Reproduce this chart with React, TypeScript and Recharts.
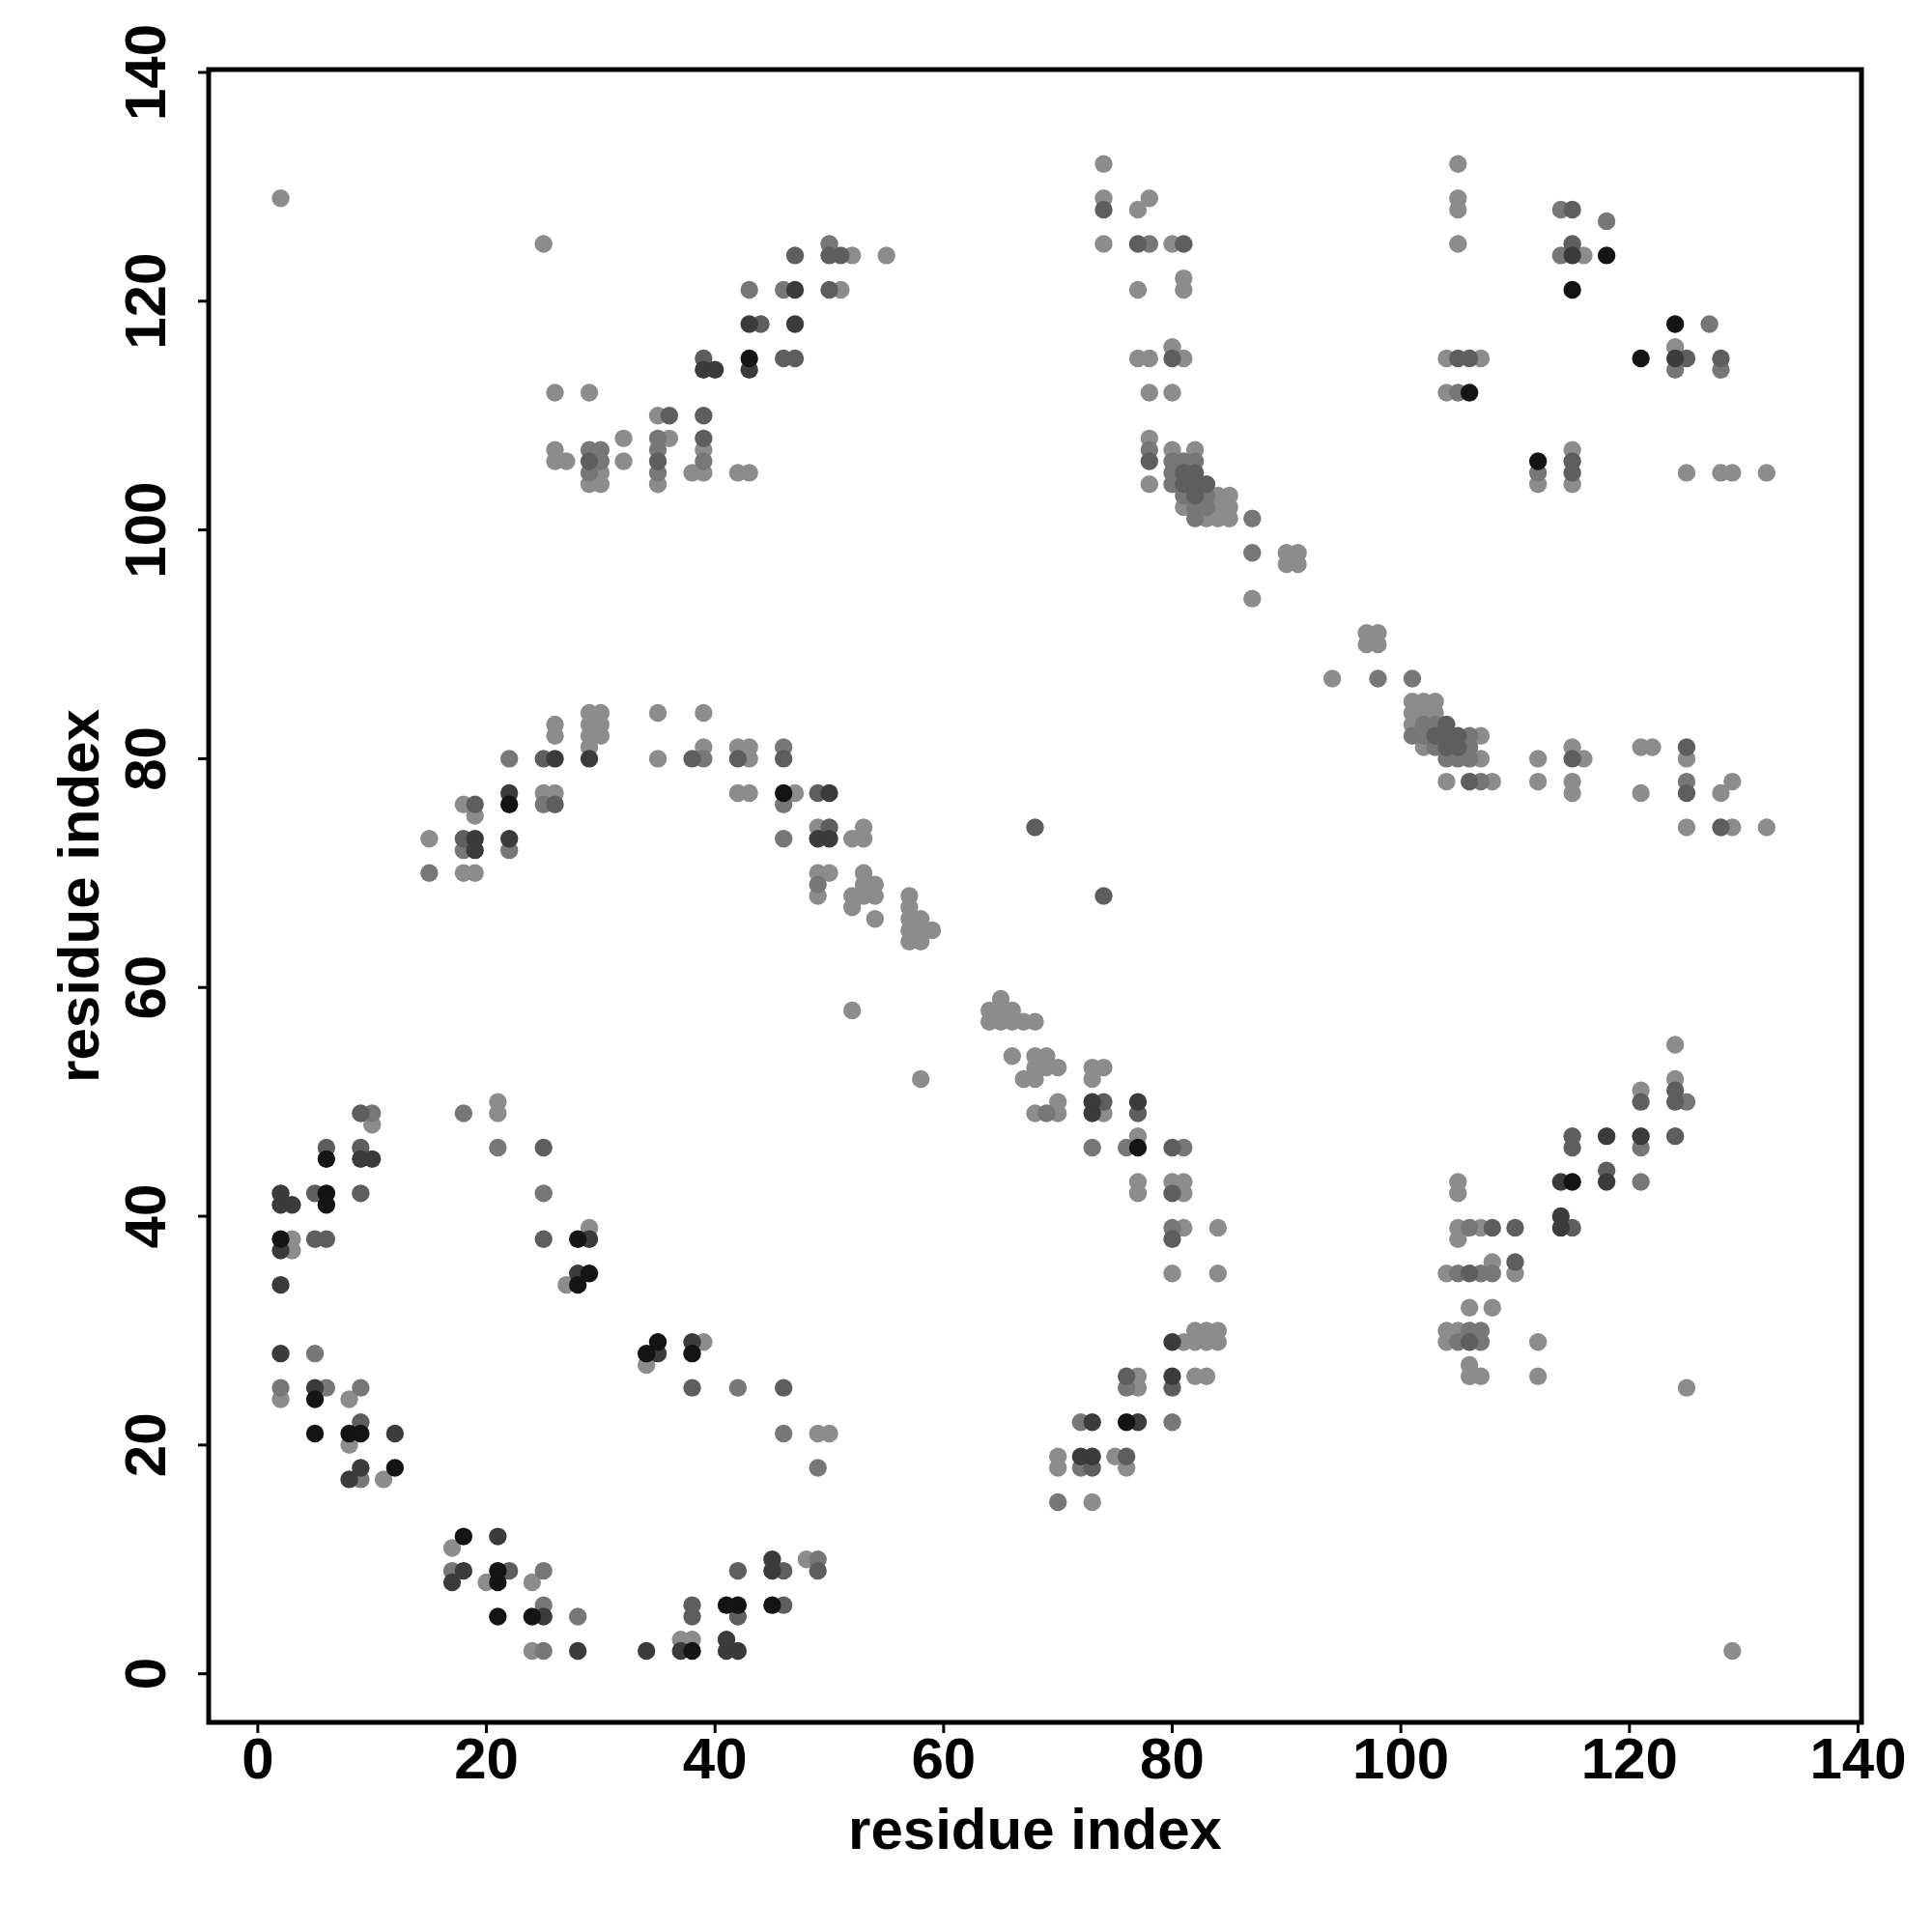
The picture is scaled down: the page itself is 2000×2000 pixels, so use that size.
import React from "react";
import { ScatterChart, Scatter, XAxis, YAxis, ReferenceArea } from "recharts";

document.body.style.margin = "0";

const W = 2000;
const H = 2000;
const M = { top: 72, right: 73, bottom: 0, left: 0 };
const X_AXIS_H = 217;
const Y_AXIS_W = 216;
const X_DOMAIN: [number, number] = [-4.3, 140.3];
const Y_DOMAIN: [number, number] = [-4.25, 140.25];
const FONT = "'Liberation Sans', Arial, Helvetica, sans-serif";

const axisTicks = [0, 20, 40, 60, 80, 100, 120, 140];

// residue contacts (i < j), each plotted at (i, j) and (j, i); grouped by grey level
const contactsLight: [number, number][] = [
  [2, 129], [2, 24], [3, 38], [3, 37], [8, 24], [8, 20], [11, 17], [10, 48],
  [21, 50], [21, 49], [29, 39], [27, 34],
  [15, 73], [18, 76], [19, 75], [18, 70], [19, 70], [26, 83], [26, 82], [25, 77],
  [26, 77], [29, 84], [30, 84], [29, 83], [30, 83], [29, 82], [30, 82], [29, 81],
  [35, 84], [39, 84], [35, 80], [39, 81], [42, 81], [43, 81], [43, 80], [42, 77],
  [43, 77], [47, 77], [49, 74], [52, 73], [53, 74], [53, 73],
  [49, 70], [50, 70], [49, 68], [52, 68], [53, 70], [53, 69], [54, 69], [52, 67],
  [53, 68], [54, 68], [54, 66], [57, 68], [57, 67], [57, 66], [57, 65], [57, 64],
  [58, 66], [58, 65], [58, 64], [59, 65], [52, 58],
  [25, 125], [26, 112], [29, 112], [26, 107], [26, 106], [27, 106], [30, 105],
  [29, 104], [30, 104], [32, 108], [32, 106], [35, 110], [36, 108], [35, 104],
  [39, 107], [39, 105], [38, 105], [42, 105], [43, 105], [51, 121], [52, 124], [55, 124],
  [74, 132], [74, 129], [74, 125], [77, 128], [78, 129], [80, 125], [77, 121],
  [81, 122], [81, 121], [77, 115], [78, 115], [80, 116], [81, 115], [78, 112],
  [80, 112], [78, 108], [78, 104], [80, 107], [81, 102], [82, 107], [83, 101],
  [84, 103], [84, 102], [84, 101], [85, 103], [85, 102], [85, 101], [87, 94],
  [90, 98], [91, 98], [90, 97], [91, 97],
  [105, 132], [105, 129], [105, 128], [105, 125], [116, 124], [104, 115], [107, 115], [104, 112],
];

const contactsMid: [number, number][] = [
  [2, 25], [5, 28], [6, 25], [9, 25], [9, 17], [10, 49], [18, 49], [21, 46], [25, 42],
  [15, 70], [18, 72], [22, 80], [22, 72], [25, 76], [39, 80], [46, 81], [46, 76],
  [46, 73], [49, 69],
  [29, 107], [30, 107], [30, 106], [29, 105], [35, 108], [35, 107], [35, 105],
  [39, 106], [43, 121], [46, 121], [50, 125],
  [78, 125], [78, 107], [80, 106], [80, 105], [80, 104], [81, 106], [81, 103],
  [82, 106], [82, 102], [82, 101], [83, 103], [83, 102], [87, 101], [87, 98],
  [114, 128], [118, 127], [114, 124], [105, 112],
];

const contactsDim: [number, number][] = [
  [5, 42], [5, 38], [6, 38], [6, 46], [9, 46], [9, 49], [9, 42], [9, 22], [25, 46], [25, 38],
  [18, 73], [19, 76], [25, 80], [26, 76], [38, 80], [42, 80], [46, 80], [49, 77],
  [50, 74], [68, 74],
  [29, 106], [35, 106], [36, 110], [39, 110], [39, 108], [39, 115], [44, 118],
  [46, 115], [47, 115], [47, 124], [50, 124], [51, 124], [50, 121],
  [74, 128], [77, 125], [81, 125], [80, 115], [78, 106], [81, 105], [81, 104],
  [82, 105], [82, 104], [82, 103], [83, 104],
  [115, 128], [115, 125], [105, 115], [106, 115],
];

const contactsDark: [number, number][] = [
  [2, 42], [2, 41], [3, 41], [2, 37], [2, 34], [2, 28], [5, 25], [9, 45], [10, 45],
  [9, 18], [8, 17], [12, 21], [29, 38], [28, 35],
  [19, 73], [19, 72], [22, 77], [22, 73], [26, 80], [29, 80], [50, 77], [49, 73], [50, 73],
  [39, 114], [40, 114], [43, 118], [43, 114], [47, 121], [47, 118],
  [115, 124],
];

const contactsBlack: [number, number][] = [
  [2, 38], [6, 42], [6, 41], [6, 45], [5, 24], [5, 21], [8, 21], [9, 21], [12, 18],
  [28, 38], [29, 35], [28, 34],
  [22, 76], [46, 77],
  [43, 115],
  [118, 124], [115, 121], [106, 112],
];

const groups = [
  { name: "light", pairs: contactsLight, color: "#8c8c8c" },
  { name: "mid", pairs: contactsMid, color: "#777777" },
  { name: "dim", pairs: contactsDim, color: "#5e5e5e" },
  { name: "dark", pairs: contactsDark, color: "#3b3b3b" },
  { name: "black", pairs: contactsBlack, color: "#141414" },
];

const bothHalves = (pairs: [number, number][]) =>
  pairs.flatMap(([i, j]) => [
    { x: i, y: j },
    { x: j, y: i },
  ]);

const XTick = (props: any) => {
  const { x, y, payload } = props;
  return (
    <text x={x} y={y + 43} textAnchor="middle" fontSize={60} fontWeight="bold" fontFamily={FONT} fill="#000">
      {payload.value}
    </text>
  );
};

const YTick = (props: any) => {
  const { x, y, payload } = props;
  return (
    <text
      transform={`translate(${x - 30}, ${y}) rotate(-90)`}
      textAnchor="middle"
      fontSize={60}
      fontWeight="bold"
      fontFamily={FONT}
      fill="#000"
    >
      {payload.value}
    </text>
  );
};

const plotLeft = M.left + Y_AXIS_W;
const plotRight = W - M.right;
const plotTop = M.top;
const plotBottom = H - M.bottom - X_AXIS_H;

const XTitle = () => (
  <text
    x={(plotLeft + plotRight) / 2}
    y={plotBottom + 131}
    textAnchor="middle"
    fontSize={60}
    fontWeight="bold"
    fontFamily={FONT}
    fill="#000"
  >
    residue index
  </text>
);

const YTitle = () => (
  <text
    transform={`translate(102, ${(plotTop + plotBottom) / 2}) rotate(-90)`}
    textAnchor="middle"
    fontSize={60}
    fontWeight="bold"
    fontFamily={FONT}
    fill="#000"
  >
    residue index
  </text>
);

export default function App() {
  return (
    <div style={{ width: W, height: H, background: "#fff" }}>
      <ScatterChart width={W} height={H} margin={M}>
        <XAxis
          type="number"
          dataKey="x"
          domain={X_DOMAIN}
          ticks={axisTicks}
          allowDataOverflow
          height={X_AXIS_H}
          axisLine={false}
          tickSize={11}
          tickMargin={4}
          tickLine={{ stroke: "#000", strokeWidth: 3 }}
          tick={<XTick />}
          interval={0}
          label={{ content: () => <XTitle /> }}
        />
        <YAxis
          type="number"
          dataKey="y"
          domain={Y_DOMAIN}
          ticks={axisTicks}
          allowDataOverflow
          width={Y_AXIS_W}
          axisLine={false}
          tickSize={11}
          tickMargin={4}
          tickLine={{ stroke: "#000", strokeWidth: 3 }}
          tick={<YTick />}
          interval={0}
          label={{ content: () => <YTitle /> }}
        />
        {groups.map((g) => (
          <Scatter
            key={g.name}
            name={g.name}
            data={bothHalves(g.pairs)}
            isAnimationActive={false}
            shape={(p: any) => <circle cx={p.cx} cy={p.cy} r={9.2} fill={g.color} />}
          />
        ))}
        <ReferenceArea
          x1={X_DOMAIN[0]}
          x2={X_DOMAIN[1]}
          y1={Y_DOMAIN[0]}
          y2={Y_DOMAIN[1]}
          fill="none"
          fillOpacity={0}
          stroke="#000"
          strokeWidth={5}
          ifOverflow="visible"
        />
      </ScatterChart>
    </div>
  );
}
